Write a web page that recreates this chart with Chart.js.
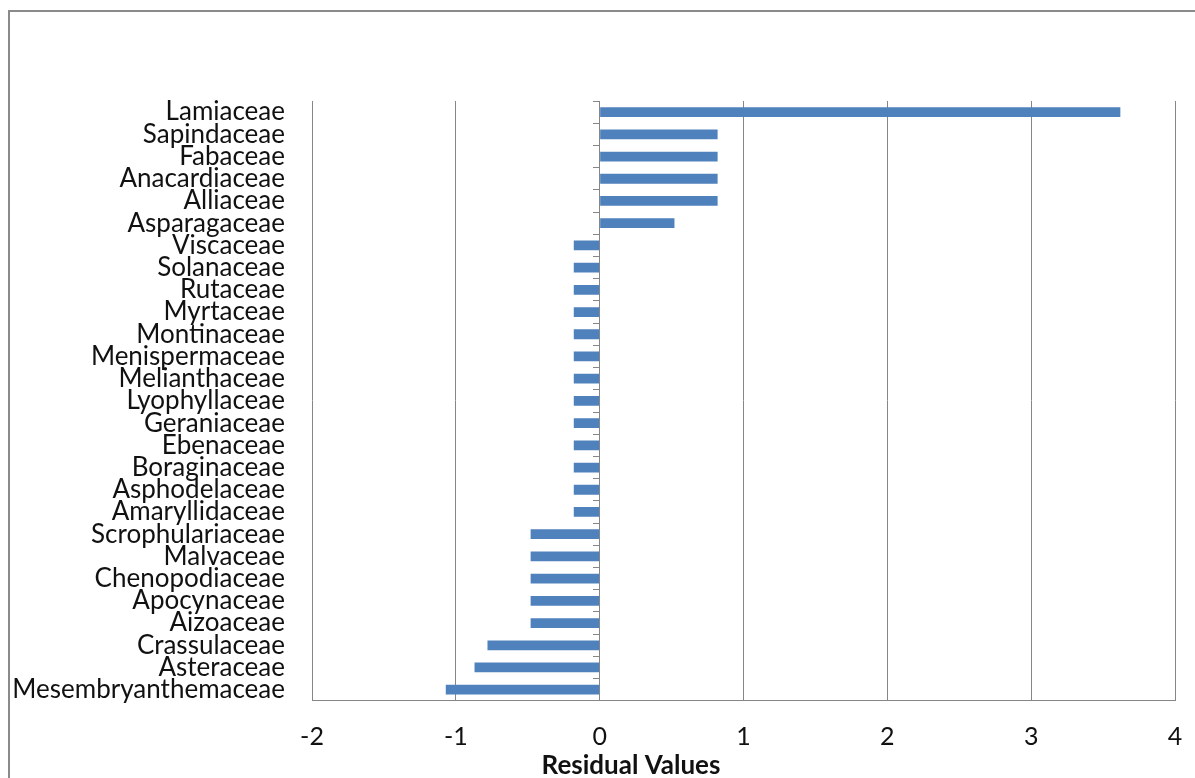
<!DOCTYPE html>
<html>
<head>
<meta charset="utf-8">
<script src="https://cdn.jsdelivr.net/npm/chart.js@4/dist/chart.umd.min.js"></script>
<style>
  html, body { margin: 0; padding: 0; background: #fff; overflow: hidden; width: 1195px; height: 778px; }
  #frame {
    position: absolute; left: 8px; top: 10px;
    width: 1246px; height: 790px;
    box-sizing: border-box;
    border: 2px solid #8a8a8a;
    background: #fff;
  }
  #frame canvas { display: block; }
</style>
</head>
<body>
<div id="frame"><canvas id="chart" width="1242" height="786"></canvas></div>
<script>
// Plant families, top to bottom
const families = [
  'Lamiaceae', 'Sapindaceae', 'Fabaceae', 'Anacardiaceae', 'Alliaceae', 'Asparagaceae',
  'Viscaceae', 'Solanaceae', 'Rutaceae', 'Myrtaceae', 'Montinaceae', 'Menispermaceae',
  'Melianthaceae', 'Lyophyllaceae', 'Geraniaceae', 'Ebenaceae', 'Boraginaceae',
  'Asphodelaceae', 'Amaryllidaceae', 'Scrophulariaceae', 'Malvaceae', 'Chenopodiaceae',
  'Apocynaceae', 'Aizoaceae', 'Crassulaceae', 'Asteraceae', 'Mesembryanthemaceae'
];

// Residual value for each family
const residuals = [
  3.62, 0.82, 0.82, 0.82, 0.82, 0.52,
  -0.18, -0.18, -0.18, -0.18, -0.18, -0.18,
  -0.18, -0.18, -0.18, -0.18, -0.18,
  -0.18, -0.18, -0.48, -0.48, -0.48,
  -0.48, -0.48, -0.78, -0.87, -1.07
];

// Value axis range
const xMin = -2;
const xMax = 4;
const xStep = 1;

const axisTitle = 'Residual Values';

const gridGrey = '#868686';
const barBlue = '#4f81bd';
const textFont = 'Lato';
const textColor = '#111';

new Chart(document.getElementById('chart'), {
  type: 'bar',
  data: {
    labels: families,
    datasets: [{
      data: residuals,
      backgroundColor: barBlue,
      borderWidth: 0,
      barPercentage: 0.44,
      categoryPercentage: 1.0
    }]
  },
  options: {
    indexAxis: 'y',
    responsive: false,
    animation: false,
    layout: { padding: { top: 89, left: 0, right: 0, bottom: 17 } },
    plugins: {
      legend: { display: false },
      tooltip: { enabled: false },
      title: {
        display: true,
        position: 'bottom',
        text: axisTitle,
        color: textColor,
        font: { family: textFont, size: 26, weight: 'bold', lineHeight: 1.2 },
        padding: 0
      }
    },
    scales: {
      x: {
        type: 'linear',
        min: xMin,
        max: xMax,
        ticks: {
          stepSize: xStep,
          color: textColor,
          padding: 21,
          font: { family: textFont, size: 25 }
        },
        grid: { color: gridGrey, lineWidth: 1, drawTicks: false },
        border: { display: true, color: gridGrey, width: 1 },
        afterFit: (s) => { s.height = 49; }
      },
      y: {
        type: 'category',
        position: 'left',
        offset: true,
        ticks: {
          color: textColor,
          padding: 27,
          autoSkip: false,
          font: { family: textFont, size: 26 }
        },
        grid: { display: false, drawTicks: false },
        border: { display: false },
        afterFit: (s) => { s.width = 302; }
      },
      // empty margin on the right of the plot
      yRight: {
        type: 'category',
        axis: 'y',
        labels: families,
        position: 'right',
        ticks: { display: false },
        grid: { display: false, drawTicks: false },
        border: { display: false },
        afterFit: (s) => { s.width = 77; }
      },
      // category axis crossing the value axis at zero, with tick marks between bars
      yZero: {
        type: 'category',
        axis: 'y',
        labels: families,
        position: { x: 0 },
        offset: true,
        ticks: { display: false },
        grid: {
          drawOnChartArea: false,
          drawTicks: true,
          tickLength: 6,
          color: gridGrey,
          offset: true
        },
        border: { display: true, color: gridGrey, width: 1 }
      }
    }
  }
});
</script>
</body>
</html>
